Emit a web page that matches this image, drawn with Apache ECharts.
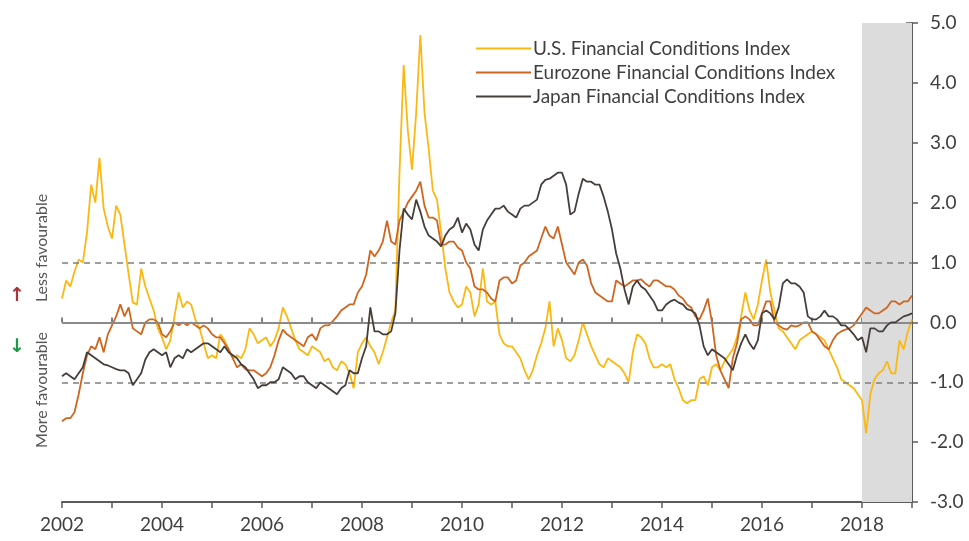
<!DOCTYPE html>
<html><head><meta charset="utf-8">
<script src="https://cdn.jsdelivr.net/npm/echarts@6/dist/echarts.min.js"></script>
<style>html,body{margin:0;padding:0;background:#fff}#c{width:969px;height:541px}</style>
</head><body><div id="c"></div>
<script>
// Monthly observations, Jan 2002 .. Dec 2018, plus end point (Jan 2019)
const startYear = 2002;
const usIndex = [
 0.4,0.7,0.6,0.85,1.05,1.0,1.5,2.3,2.0,2.75,1.9,1.6,
 1.4,1.95,1.8,1.3,0.8,0.33,0.3,0.9,0.6,0.4,0.2,-0.1,
 -0.25,-0.45,-0.3,0.1,0.5,0.25,0.35,0.3,0.05,-0.1,-0.35,-0.6,
 -0.55,-0.6,-0.2,-0.3,-0.45,-0.6,-0.55,-0.6,-0.45,-0.1,-0.2,-0.35,
 -0.3,-0.25,-0.4,-0.3,-0.1,0.25,0.1,-0.1,-0.3,-0.45,-0.5,-0.55,
 -0.4,-0.45,-0.5,-0.65,-0.6,-0.75,-0.8,-0.65,-0.7,-0.85,-1.1,-0.5,
 -0.35,-0.25,-0.4,-0.5,-0.7,-0.5,-0.25,0.0,0.2,2.5,4.3,3.2,
 2.55,3.5,4.8,3.5,2.9,2.2,2.05,1.5,0.9,0.5,0.35,0.25,
 0.3,0.6,0.5,0.1,0.3,0.9,0.35,0.3,0.35,-0.2,-0.35,-0.4,
 -0.4,-0.5,-0.6,-0.8,-0.95,-0.8,-0.55,-0.35,-0.1,0.35,-0.4,-0.1,
 -0.3,-0.6,-0.65,-0.55,-0.3,0.0,-0.2,-0.4,-0.55,-0.7,-0.75,-0.6,
 -0.65,-0.7,-0.75,-0.85,-1.0,-0.5,-0.2,-0.25,-0.35,-0.6,-0.75,-0.75,
 -0.7,-0.75,-0.7,-0.95,-1.1,-1.3,-1.35,-1.3,-1.3,-0.95,-0.9,-1.05,
 -0.75,-0.7,-0.8,-0.65,-0.55,-0.45,-0.25,0.1,0.5,0.2,0.05,0.3,
 0.7,1.05,0.5,0.2,-0.1,-0.15,-0.25,-0.35,-0.45,-0.3,-0.25,-0.2,
 -0.15,-0.2,-0.25,-0.3,-0.45,-0.6,-0.75,-0.95,-1.0,-1.05,-1.1,-1.2,
 -1.3,-1.85,-1.2,-0.95,-0.85,-0.8,-0.65,-0.85,-0.85,-0.3,-0.45,-0.15,
 0.05
];
const euroIndex = [
 -1.65,-1.6,-1.6,-1.5,-1.2,-0.85,-0.55,-0.4,-0.45,-0.25,-0.5,-0.2,
 -0.05,0.1,0.3,0.1,0.25,-0.1,-0.15,-0.2,0.0,0.05,0.05,0.0,
 -0.2,-0.25,-0.15,0.0,-0.05,0.0,-0.05,0.0,-0.05,-0.1,-0.05,-0.1,
 -0.2,-0.25,-0.25,-0.35,-0.45,-0.6,-0.75,-0.7,-0.78,-0.8,-0.8,-0.85,
 -0.9,-0.85,-0.75,-0.55,-0.3,-0.12,-0.2,-0.25,-0.3,-0.35,-0.4,-0.25,
 -0.2,-0.3,-0.1,-0.05,-0.05,0.02,0.1,0.2,0.25,0.3,0.3,0.5,
 0.6,0.8,1.2,1.1,1.2,1.35,1.7,1.35,1.3,1.7,1.85,2.0,
 2.1,2.2,2.35,1.95,1.75,1.75,1.7,1.3,1.3,1.35,1.35,1.25,
 1.2,1.0,0.9,0.6,0.55,0.55,0.5,0.4,0.35,0.7,0.75,0.75,
 0.65,0.7,0.95,1.0,1.1,1.15,1.2,1.4,1.6,1.45,1.4,1.6,
 1.3,1.0,0.9,0.8,1.0,1.05,0.95,0.65,0.5,0.45,0.4,0.35,
 0.35,0.7,0.65,0.6,0.65,0.7,0.7,0.72,0.65,0.6,0.7,0.7,
 0.65,0.6,0.6,0.55,0.45,0.4,0.3,0.25,0.1,0.05,0.2,0.4,
 0.0,-0.55,-0.8,-0.95,-1.1,-0.6,-0.35,0.05,0.1,0.05,-0.05,-0.05,
 0.15,0.35,0.35,0.0,-0.05,-0.1,-0.12,-0.05,-0.07,-0.05,0.0,0.0,
 -0.15,-0.2,-0.3,-0.4,-0.45,-0.3,-0.2,-0.15,-0.12,-0.1,-0.05,0.05,
 0.15,0.25,0.2,0.15,0.15,0.2,0.25,0.35,0.35,0.3,0.35,0.35,
 0.45
];
const japanIndex = [
 -0.9,-0.85,-0.9,-0.95,-0.85,-0.75,-0.5,-0.55,-0.6,-0.65,-0.7,-0.72,
 -0.75,-0.78,-0.8,-0.8,-0.85,-1.05,-0.95,-0.85,-0.62,-0.5,-0.45,-0.5,
 -0.55,-0.5,-0.75,-0.6,-0.55,-0.6,-0.45,-0.5,-0.45,-0.4,-0.35,-0.35,
 -0.4,-0.45,-0.5,-0.4,-0.5,-0.55,-0.6,-0.7,-0.75,-0.85,-0.95,-1.1,
 -1.05,-1.05,-1.0,-1.0,-0.95,-0.75,-0.8,-0.85,-0.95,-0.9,-0.9,-1.0,
 -1.05,-1.1,-1.0,-1.05,-1.1,-1.15,-1.2,-1.1,-1.05,-0.8,-0.85,-0.85,
 -0.6,-0.4,0.25,-0.15,-0.15,-0.2,-0.2,-0.15,0.15,1.2,1.9,1.8,
 1.72,2.05,1.85,1.6,1.45,1.4,1.35,1.27,1.45,1.55,1.6,1.75,
 1.5,1.65,1.55,1.3,1.2,1.55,1.7,1.8,1.9,1.9,1.95,1.85,
 1.8,1.75,1.9,1.95,1.95,2.0,2.05,2.3,2.38,2.4,2.45,2.5,
 2.5,2.3,1.8,1.85,2.15,2.4,2.35,2.35,2.3,2.3,2.1,1.85,
 1.55,1.15,0.9,0.55,0.3,0.6,0.7,0.6,0.55,0.45,0.35,0.2,
 0.2,0.3,0.35,0.38,0.33,0.3,0.22,0.2,0.15,-0.05,-0.4,-0.55,
 -0.45,-0.5,-0.55,-0.6,-0.7,-0.8,-0.55,-0.35,-0.2,-0.35,-0.45,-0.3,
 0.15,0.2,0.15,0.05,0.25,0.65,0.72,0.65,0.65,0.6,0.5,0.1,
 0.05,0.05,0.1,0.2,0.1,0.1,0.05,-0.05,-0.05,-0.12,-0.2,-0.3,
 -0.25,-0.5,-0.1,-0.1,-0.15,-0.15,-0.05,0.0,0.0,0.05,0.1,0.12,
 0.15
];
const seriesNames = ['U.S. Financial Conditions Index','Eurozone Financial Conditions Index','Japan Financial Conditions Index'];
const seriesColors = ['#fbb812','#d0651f','#463e3a'];
const refLines = [1, -1];
const shadeRange = [2018, 2019];
const yTicks = [-3, 5, 1];

function pairs(arr){ return arr.map((v,i)=>[startYear + i/12, v]); }

const chart = echarts.init(document.getElementById('c'), null, {renderer:'canvas'});
const fontFam = 'Lato, "Open Sans", sans-serif';
const txtCol = '#3f3f3f';
const axisCol = '#5b5b5b';

const option = {
  animation:false,
  grid:{left:62, right:57, top:23, bottom:39},
  legend:{
    orient:'vertical', left:471, top:34, itemWidth:55, itemHeight:2, itemGap:5,
    icon:'rect',
    textStyle:{fontFamily:fontFam, fontSize:19, color:txtCol, padding:[0,0,0,-3]},
    data:seriesNames
  },
  xAxis:[{
    type:'value', min:2002, max:2019, interval:1,
    axisLine:{show:true, onZero:false, lineStyle:{color:axisCol, width:2}},
    axisTick:{show:true, length:6, lineStyle:{color:axisCol, width:1.5}},
    axisLabel:{fontFamily:fontFam, fontSize:19, color:txtCol, margin:13,
      formatter:v=> (Math.round(v)%2===0 ? String(Math.round(v)) : '')},
    splitLine:{show:false}
  },{
    type:'value', min:2002, max:2019, interval:1, position:'bottom',
    axisLine:{show:false}, axisTick:{show:true, inside:true, length:5, lineStyle:{color:axisCol, width:1.5}},
    axisLabel:{show:false}, splitLine:{show:false}
  }],
  yAxis:[{
    type:'value', position:'right', min:yTicks[0], max:yTicks[1], interval:yTicks[2],
    axisLine:{show:true, onZero:false, lineStyle:{color:axisCol, width:2}},
    axisTick:{show:true, length:6, lineStyle:{color:axisCol, width:1.5}},
    axisLabel:{fontFamily:fontFam, fontSize:19, color:txtCol, margin:18, formatter:v=>v.toFixed(1)},
    splitLine:{show:false}
  },{
    type:'value', position:'right', min:yTicks[0], max:yTicks[1], interval:yTicks[2],
    axisLine:{show:false}, axisTick:{show:true, inside:true, length:6, lineStyle:{color:axisCol, width:1.5}},
    axisLabel:{show:false}, splitLine:{show:false}
  }],
  series:[
    {
      type:'line', name:'_ref', data:[], silent:true, z:1,
      markArea:{silent:true, itemStyle:{color:'#dcdcdc'}, data:[[{xAxis:shadeRange[0], yAxis:yTicks[1]},{xAxis:shadeRange[1], yAxis:yTicks[0]}]]},
      markLine:{silent:true, symbol:['none','none'], label:{show:false},
        data:[
          {yAxis:refLines[0], lineStyle:{color:'#7f7f7f', type:[6,5], width:1.5}},
          {yAxis:refLines[1], lineStyle:{color:'#7f7f7f', type:[6,5], width:1.5}},
          {yAxis:0, lineStyle:{color:'#8a8a8a', type:'solid', width:2}}
        ]}
    },
    {type:'line', name:seriesNames[0], data:pairs(usIndex), showSymbol:false, symbol:'none', z:3,
     lineStyle:{color:seriesColors[0], width:1.8}, itemStyle:{color:seriesColors[0]}},
    {type:'line', name:seriesNames[1], data:pairs(euroIndex), showSymbol:false, symbol:'none', z:4,
     lineStyle:{color:seriesColors[1], width:1.8}, itemStyle:{color:seriesColors[1]}},
    {type:'line', name:seriesNames[2], data:pairs(japanIndex), showSymbol:false, symbol:'none', z:5,
     lineStyle:{color:seriesColors[2], width:1.8}, itemStyle:{color:seriesColors[2]}}
  ],
  graphic:[
    {type:'text', x:42, y:248, rotation:Math.PI/2, style:{text:'Less favourable', fontFamily:fontFam, fontSize:16, fill:'#555', align:'center', verticalAlign:'middle'}},
    {type:'text', x:42, y:390, rotation:Math.PI/2, style:{text:'More favourable', fontFamily:fontFam, fontSize:16, fill:'#555', align:'center', verticalAlign:'middle'}},
    {type:'text', x:17, y:296, style:{text:'↑', fontFamily:'DejaVu Sans', fontWeight:'bold', fontSize:19, fill:'#a8333a', align:'center', verticalAlign:'middle'}},
    {type:'text', x:17, y:347, style:{text:'↓', fontFamily:'DejaVu Sans', fontWeight:'bold', fontSize:19, fill:'#1a9a45', align:'center', verticalAlign:'middle'}}
  ]
};
chart.setOption(option);
</script>
</body></html>
